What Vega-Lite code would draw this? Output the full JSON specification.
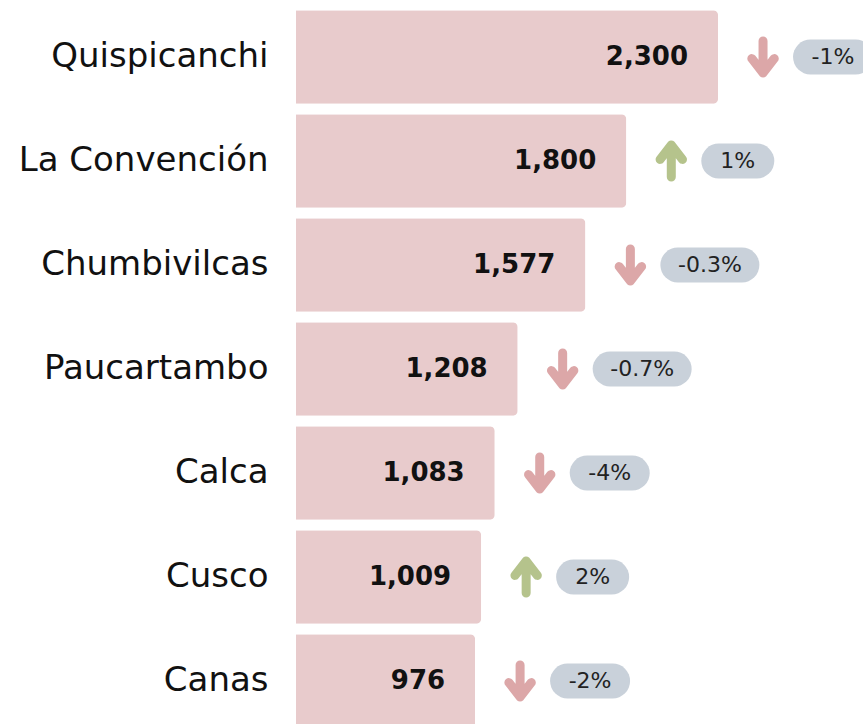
{
  "$schema": "https://vega.github.io/schema/vega-lite/v6.json",
  "width": 567,
  "height": 728,
  "autosize": {"type": "none"},
  "padding": {"left": 296, "top": 5, "right": 0, "bottom": 0},
  "background": "white",
  "config": {"view": {"stroke": null}, "font": "DejaVu Sans"},
  "data": {"values": [
    {"prov": "Quispicanchi", "value": 2300, "pct": "-1%", "dir": "down"},
    {"prov": "La Convención", "value": 1800, "pct": "1%", "dir": "up"},
    {"prov": "Chumbivilcas", "value": 1577, "pct": "-0.3%", "dir": "down"},
    {"prov": "Paucartambo", "value": 1208, "pct": "-0.7%", "dir": "down"},
    {"prov": "Calca", "value": 1083, "pct": "-4%", "dir": "down"},
    {"prov": "Cusco", "value": 1009, "pct": "2%", "dir": "up"},
    {"prov": "Canas", "value": 976, "pct": "-2%", "dir": "down"}
  ]},
  "encoding": {
    "y": {
      "field": "prov", "type": "nominal", "sort": null,
      "scale": {"paddingInner": 0.1, "paddingOuter": 0.05},
      "axis": {"title": null, "domain": false, "ticks": false, "labelPadding": 28, "labelFontSize": 34, "labelLimit": 400, "labelColor": "#111", "labelFont": "DejaVu Sans", "labelFontWeight": "normal"}
    },
    "x": {
      "field": "value", "type": "quantitative",
      "scale": {"domain": [0, 3090], "nice": false},
      "axis": null
    }
  },
  "layer": [
    {"mark": {"type": "bar", "color": "#e8cbcc", "cornerRadiusEnd": 5}},
    {"mark": {"type": "text", "align": "right", "baseline": "middle", "xOffset": -30, "fontSize": 26, "fontWeight": "bold", "color": "#111"},
     "encoding": {"text": {"field": "value", "type": "quantitative", "format": ","}}},
    {"mark": {"type": "point", "filled": false, "strokeWidth": 9, "strokeCap": "round", "strokeJoin": "round", "xOffset": 45, "size": 1024, "opacity": 1},
     "encoding": {
       "shape": {"field": "dir", "type": "nominal", "scale": {"domain": ["down", "up"], "range": ["M0,-1L0,1M-0.7,0.1L0,1L0.7,0.1", "M0,1L0,-1M-0.7,-0.1L0,-1L0.7,-0.1"]}, "legend": null},
       "color": {"field": "dir", "type": "nominal", "scale": {"domain": ["down", "up"], "range": ["#dca7a8", "#b5c38c"]}, "legend": null}
     }},
    {"transform": [{"filter": "length(datum.pct) == 2"}],
     "mark": {"type": "rule", "strokeWidth": 35, "strokeCap": "round", "color": "#c9d1da", "xOffset": 92.5, "x2Offset": 130.5},
     "encoding": {"x2": {"field": "value"}}},
    {"transform": [{"filter": "length(datum.pct) == 3"}],
     "mark": {"type": "rule", "strokeWidth": 35, "strokeCap": "round", "color": "#c9d1da", "xOffset": 92.5, "x2Offset": 137.5},
     "encoding": {"x2": {"field": "value"}}},
    {"transform": [{"filter": "length(datum.pct) == 5"}],
     "mark": {"type": "rule", "strokeWidth": 35, "strokeCap": "round", "color": "#c9d1da", "xOffset": 92.5, "x2Offset": 156.5},
     "encoding": {"x2": {"field": "value"}}},
    {"transform": [{"filter": "length(datum.pct) == 2"}],
     "mark": {"type": "text", "align": "center", "baseline": "middle", "xOffset": 111.5, "fontSize": 22, "color": "#222"},
     "encoding": {"text": {"field": "pct"}}},
    {"transform": [{"filter": "length(datum.pct) == 3"}],
     "mark": {"type": "text", "align": "center", "baseline": "middle", "xOffset": 115, "fontSize": 22, "color": "#222"},
     "encoding": {"text": {"field": "pct"}}},
    {"transform": [{"filter": "length(datum.pct) == 5"}],
     "mark": {"type": "text", "align": "center", "baseline": "middle", "xOffset": 124.5, "fontSize": 22, "color": "#222"},
     "encoding": {"text": {"field": "pct"}}}
  ]
}
